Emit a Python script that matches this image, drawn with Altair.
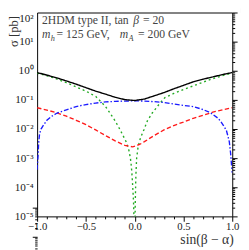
import json
import altair as alt
import pandas as pd

# ---------------- data ----------------
x_total = [-1.0, -0.9, -0.8, -0.7, -0.6, -0.5, -0.4, -0.3, -0.2, -0.1, 0.0,
           0.1, 0.2, 0.3, 0.4, 0.5, 0.6, 0.7, 0.8, 0.9, 1.0]
sigma_total = [0.87, 0.71, 0.575, 0.447, 0.347, 0.263, 0.200, 0.158, 0.123, 0.102, 0.0955,
               0.107, 0.138, 0.178, 0.240, 0.316, 0.417, 0.513, 0.617, 0.741, 0.871]

x_green = [-1.0, -0.9, -0.8, -0.7, -0.6, -0.5, -0.4, -0.3, -0.25, -0.2,
           -0.15, -0.12, -0.09, -0.06, -0.045, -0.035, -0.027, -0.018, -0.012, -0.008,
           -0.004, 0.002, 0.006, 0.012, 0.02, 0.035, 0.06, 0.095, 0.13, 0.18,
           0.25, 0.31, 0.4, 0.5, 0.6, 0.7, 0.8, 0.9, 1.0]
sigma_green = [0.83, 0.676, 0.525, 0.389, 0.279, 0.2, 0.132, 0.06, 0.034, 0.019,
               0.0095, 0.006, 0.0038, 0.0019, 0.00105, 0.00056, 0.00025, 7.9e-5, 3.2e-5, 1e-5,
               2.5e-6, 2.5e-6, 3.2e-5, 0.00025, 0.001, 0.0025, 0.005, 0.0095, 0.019, 0.0355,
               0.0708, 0.12, 0.166, 0.229, 0.302, 0.407, 0.537, 0.676, 0.83]

x_blue = [-1.0, -0.995, -0.99, -0.985, -0.975, -0.96, -0.94, -0.9, -0.85, -0.8,
          -0.7, -0.6, -0.5, -0.4, -0.3, -0.2, -0.1, 0.0, 0.1, 0.2,
          0.3, 0.4, 0.5, 0.6, 0.7, 0.78, 0.85, 0.88, 0.91, 0.94,
          0.96, 0.97, 0.983, 0.993, 1.0]
sigma_blue = [0.0004, 0.00079, 0.00126, 0.00316, 0.00676, 0.01, 0.0129, 0.02, 0.0275, 0.0347,
              0.0457, 0.0589, 0.0692, 0.0776, 0.0851, 0.0891, 0.0912, 0.0933, 0.0912, 0.0871,
              0.0813, 0.0724, 0.0646, 0.0589, 0.0468, 0.0355, 0.024, 0.0186, 0.0132, 0.0089,
              0.005, 0.0036, 0.00148, 0.00055, 0.00032]

x_red = [-1.0, -0.9, -0.8, -0.7, -0.6, -0.5, -0.4, -0.3, -0.2, -0.1, -0.02,
         0.05, 0.1, 0.2, 0.3, 0.4, 0.5, 0.6, 0.7, 0.8, 0.9, 1.0]
sigma_red = [0.0537, 0.0447, 0.0363, 0.0275, 0.02, 0.0141, 0.0093, 0.006, 0.0039, 0.00275, 0.00245,
             0.00295, 0.0037, 0.006, 0.0093, 0.0132, 0.0174, 0.0234, 0.0295, 0.038, 0.0457, 0.0537]

series_names = ["dotted", "dashed", "dashdot", "total"]
series_colors = ["#22aa22", "#ff1a1a", "#1a1aff", "#000000"]
series_dashes = [[2, 3], [4.5, 2.5], [5, 2, 1.5, 2], [1, 0]]

x_tick_major = [-1.0, -0.5, 0.0, 0.5, 1.0]
x_tick_labels = ["−1.0", "−0.5", "0.0", "0.5", "1.0"]
x_tick_all = [-1.0, -0.9, -0.8, -0.7, -0.6, -0.5, -0.4, -0.3, -0.2, -0.1, 0.0,
              0.1, 0.2, 0.3, 0.4, 0.5, 0.6, 0.7, 0.8, 0.9, 1.0]
y_tick_major = [1e-5, 1e-4, 1e-3, 1e-2, 1e-1, 1e0, 1e1, 1e2]
y_tick_labels = ["10⁻⁵", "10⁻⁴", "10⁻³", "10⁻²", "10⁻¹", "10⁰", "10¹", "10²"]
y_tick_all = [m * 10.0 ** e for e in range(-5, 2) for m in range(1, 10)] + [100.0]

x_title = "sin(β − α)"
y_title = "σ [pb]"

# ---------------- build table ----------------
rows = []
for name, xs, ys in [("dotted", x_green, sigma_green), ("dashed", x_red, sigma_red),
                     ("dashdot", x_blue, sigma_blue), ("total", x_total, sigma_total)]:
    for xv, yv in zip(xs, ys):
        rows.append({"x": xv, "sigma": yv, "series": name})
df = pd.DataFrame(rows)

W, H = 201, 210
FONT = "Liberation Serif"

xscale = alt.Scale(domain=[-1, 1], nice=False, zero=False)
yscale = alt.Scale(type="log", domain=[1e-5, 100], nice=False)

x_major_test = "abs(datum.value * 2 - round(datum.value * 2)) < 1e-6"
y_major_test = "abs(log(datum.value) / LN10 - round(log(datum.value) / LN10)) < 1e-6"

x_label_expr = json.dumps(x_tick_labels, ensure_ascii=False) + "[round((datum.value + 1) * 2)]"
y_label_expr = json.dumps(y_tick_labels, ensure_ascii=False) + "[round(log(datum.value) / LN10) + 5]"

x_label_axis = alt.Axis(
    orient="bottom", values=x_tick_major, labelExpr=x_label_expr, ticks=False, domain=False,
    grid=False, labelFlush=False, labelPadding=4, labelFont=FONT, labelFontSize=11,
    labelColor="#222", title=x_title, titleFont=FONT, titleFontSize=14,
    titleFontWeight="normal", titleColor="#333", titleAlign="right", titleAnchor="end",
    titleX=W + 1, titleY=28, titleBaseline="alphabetic")
y_label_axis = alt.Axis(
    orient="left", values=y_tick_major, labelExpr=y_label_expr, ticks=False, domain=False,
    grid=False, labelFlush=False, labelPadding=4, labelFont=FONT, labelFontSize=11.5,
    labelColor="#222",
    labelBaseline={"condition": {"test": "datum.value > 50", "value": "top"}, "value": "middle"},
    title=y_title, titleFont=FONT, titleFontSize=13, titleFontWeight="normal",
    titleColor="#333", titleAngle=270, titleAlign="center", titleBaseline="alphabetic",
    titleX=-20, titleY=19)

lines = alt.Chart(df).mark_line(clip=True, strokeWidth=1.4).encode(
    x=alt.X("x:Q", scale=xscale, axis=x_label_axis),
    y=alt.Y("sigma:Q", scale=yscale, axis=y_label_axis),
    color=alt.Color("series:N", scale=alt.Scale(domain=series_names, range=series_colors), legend=None),
    strokeDash=alt.StrokeDash("series:N", scale=alt.Scale(domain=series_names, range=series_dashes), legend=None),
)


def tick_axis(orient, position, values, test):
    return alt.Axis(orient=orient, position=position, values=values, labels=False, domain=False,
                    grid=False, ticks=True, tickColor="black", tickWidth=1,
                    tickSize={"condition": {"test": test, "value": 5}, "value": 2.5}, title=None)


ticks_a = alt.Chart(df).mark_point(opacity=0).encode(
    x=alt.X("x:Q", scale=xscale, axis=tick_axis("top", H, x_tick_all, x_major_test)),
    y=alt.Y("sigma:Q", scale=yscale, axis=tick_axis("right", 0, y_tick_all, y_major_test)),
)
ticks_b = alt.Chart(df).mark_point(opacity=0).encode(
    x=alt.X("x:Q", scale=xscale, axis=tick_axis("bottom", 0, x_tick_all, x_major_test)),
    y=alt.Y("sigma:Q", scale=yscale, axis=tick_axis("left", W, y_tick_all, y_major_test)),
)

# annotation text pieces
ann_main = pd.DataFrame({"t": ["2HDM type II, tan", "= 20", "= 125 GeV,", "= 200 GeV"],
                         "px": [5, 109, 20, 104], "py": [12, 12, 26, 26]})
ann_ital = pd.DataFrame({"t": ["β", "m", "m"], "px": [99, 5, 85], "py": [12, 26, 26]})
ann_sub = pd.DataFrame({"t": ["h", "A"], "px": [14, 94], "py": [29, 29]})


def ann(data, size, style):
    return alt.Chart(data).mark_text(align="left", baseline="alphabetic", font=FONT, fontSize=size,
                                     fontStyle=style, color="#444").encode(
        x=alt.X("px:Q", scale=None), y=alt.Y("py:Q", scale=None), text="t:N")


chart = alt.layer(
    ticks_a, ticks_b, lines,
    ann(ann_main, 12, "normal"), ann(ann_ital, 12, "italic"), ann(ann_sub, 8.5, "italic"),
).resolve_axis(x="independent", y="independent").properties(
    width=W, height=H,
    padding={"left": 30, "top": 1, "right": 9, "bottom": 33},
    autosize=alt.AutoSizeParams(type="none"),
).configure_view(stroke="black", strokeWidth=1)

chart.save("out.html", embed_options={"renderer": "svg", "actions": False})
